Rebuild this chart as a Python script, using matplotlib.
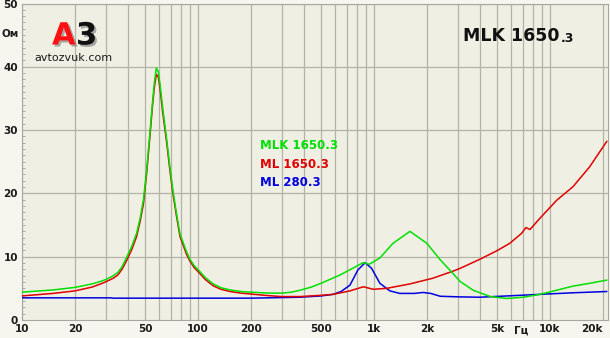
import matplotlib
matplotlib.use("Agg")
import matplotlib.pyplot as plt
import matplotlib.patheffects as pe
from matplotlib.ticker import FixedLocator, NullFormatter, MultipleLocator

# impedance curves, Hz -> Ohm
green_f = [10, 15, 20, 25, 28, 30, 33, 35, 37, 39, 42, 44.8, 47, 49, 51, 53.3, 55, 56.5,
           58, 59.5, 61, 63, 66.4, 69, 72, 75.5, 79, 86, 90, 95, 102, 110, 122, 135, 152,
           175, 200, 250, 300, 340, 380, 440, 500, 640, 760, 867, 940, 1080, 1280, 1600,
           2000, 2380, 2800, 3080, 3660, 4580, 5700, 7070, 8750, 10900, 13500, 16800,
           21000]
green_z = [4.4, 4.75, 5.15, 5.7, 6.1, 6.4, 7.0, 7.5, 8.4, 9.7, 11.6, 13.7, 16.2, 19, 23.5,
           29.5, 34, 37.5, 39.8, 39.2, 37, 33.5, 28.5, 24.5, 20.5, 16.8, 13.6, 10.8, 9.6,
           8.6, 7.7, 6.7, 5.7, 5.1, 4.75, 4.5, 4.4, 4.25, 4.25, 4.4, 4.7, 5.2, 5.8, 7.1,
           8.2, 9.05, 8.8, 9.8, 12.1, 14.0, 12.1, 9.5, 7.4, 6.1, 4.7, 3.7, 3.4, 3.6, 4.05,
           4.7, 5.35, 5.8, 6.3]

red_f = [10, 15, 20, 25, 28, 30, 33, 35, 37, 39, 42, 44.8, 47, 49, 51, 53.3, 55, 56.5,
         58, 59.5, 61, 63, 66.4, 69, 72, 75.5, 79, 86, 90, 95, 102, 110, 122, 135, 152,
         175, 200, 250, 300, 380, 500, 585, 730, 870, 990, 1180, 1600, 2160, 2800, 3080,
         4000, 4960, 5900, 6900, 7300, 7700, 8750, 10900, 13500, 16800, 21000]
red_z = [3.8, 4.2, 4.6, 5.2, 5.7, 6.05, 6.6, 7.1, 8.0, 9.2, 11.1, 13.2, 15.7, 18.4, 23,
         29, 33.5, 36.8, 38.8, 38.4, 36.3, 32.8, 28, 24, 20, 16.4, 13.2, 10.4, 9.3, 8.3,
         7.4, 6.4, 5.4, 4.85, 4.5, 4.25, 4.1, 3.85, 3.7, 3.7, 3.9, 4.05, 4.6, 5.25, 4.85,
         5.0, 5.7, 6.6, 7.7, 8.15, 9.6, 10.9, 12.1, 13.7, 14.6, 14.3, 16.05, 18.9, 21.05,
         24.2, 28.2]

blue_f = [10, 32, 33, 200, 380, 500, 585, 650, 730, 810, 890, 970, 1080, 1230, 1400,
          1700, 1900, 2100, 2380, 3080, 4000, 5700, 8750, 13500, 21000]
blue_z = [3.5, 3.5, 3.45, 3.45, 3.6, 3.8, 4.05, 4.5, 5.5, 7.9, 9.05, 8.15, 5.8, 4.6, 4.2,
          4.2, 4.35, 4.2, 3.75, 3.65, 3.6, 3.8, 4.05, 4.3, 4.5]

x_ticks = [10, 20, 50, 100, 200, 500, 1000, 2000, 5000, 10000, 20000]
x_labels = ['10', '20', '50', '100', '200', '500', '1k', '2k', '5k', '10k', '20k']
y_ticks = [0, 10, 20, 30, 40, 50]

bg = '#f0efe3'
grid_c = '#b4b3a8'

fig = plt.figure(figsize=(6.1, 3.38), dpi=100, facecolor='#f6f5ee')
ax = fig.add_axes([22 / 610, 18 / 338, 586 / 610, 316.5 / 338], facecolor=bg)

ax.set_xscale('log')
ax.set_xlim(10, 21360)
ax.set_ylim(0, 50)

# grid lines at every 1-2-...-9 step
grid_x = [m * 10 ** d for d in range(1, 5) for m in range(1, 10) if m * 10 ** d <= 21000]
for gx in grid_x:
    ax.axvline(gx, color=grid_c, lw=0.9, zorder=1)
for gy in y_ticks[1:]:
    ax.axhline(gy, color=grid_c, lw=0.9, zorder=1)

ax.plot(blue_f, blue_z, color='#0000e0', lw=1.1, zorder=3)
ax.plot(red_f, red_z, color='#e00000', lw=1.1, zorder=4)
ax.plot(green_f, green_z, color='#00e000', lw=1.1, zorder=5)

ax.xaxis.set_major_locator(FixedLocator(x_ticks))
ax.set_xticklabels(x_labels)
ax.xaxis.set_minor_formatter(NullFormatter())
ax.tick_params(axis='x', which='both', length=0, pad=3, labelsize=7.5)
ax.set_yticks(y_ticks)
ax.yaxis.set_minor_locator(MultipleLocator(1))
ax.tick_params(axis='y', which='major', length=0, pad=3, labelsize=7.5)
ax.tick_params(axis='y', which='minor', length=2, color='#a0a09a', direction='in')
for lab in ax.get_xticklabels() + ax.get_yticklabels():
    lab.set_fontweight('bold')
    lab.set_color('#1a1a1a')
ax.get_xticklabels()[-1].set_horizontalalignment('right')
ax.get_xticklabels()[-1].set_x(21300)

for s in ax.spines.values():
    s.set_color('#a8a8a0')
    s.set_linewidth(0.8)

fig.text(1 / 610, 1 - 34 / 338, 'Ом', fontsize=7.5, fontweight='bold', color='#1a1a1a',
         va='center', ha='left')
fig.text(514 / 610, 1 - 331 / 338, 'Гц', fontsize=7.5, fontweight='bold', color='#1a1a1a',
         va='center', ha='left')

# logo
shadow = [pe.withSimplePatchShadow(offset=(1.5, -1.5), shadow_rgbFace='#777777', alpha=0.6)]
fig.text(52 / 610, 1 - 36 / 338, 'A', fontsize=22, fontweight='bold', color='#ff1010',
         va='center', ha='left', path_effects=shadow)
fig.text(76 / 610, 1 - 36 / 338, '3', fontsize=22, fontweight='bold', color='#111111',
         va='center', ha='left', path_effects=shadow)
fig.text(34 / 610, 1 - 58 / 338, 'avtozvuk.com', fontsize=8, color='#1a1a1a',
         va='center', ha='left')

# title
fig.text(463 / 610, 1 - 36 / 338, 'MLK 1650', fontsize=12.5, fontweight='bold',
         color='#111111', va='center', ha='left')
fig.text(561 / 610, 1 - 38 / 338, '.3', fontsize=9, fontweight='bold',
         color='#111111', va='center', ha='left')

# legend text
leg_names = ['MLK 1650.3', 'ML 1650.3', 'ML 280.3']
leg_colors = ['#00e000', '#e00000', '#0000e0']
for i, (n, c) in enumerate(zip(leg_names, leg_colors)):
    fig.text(260 / 610, 1 - (145 + 19 * i) / 338, n, fontsize=8.5, fontweight='bold',
             color=c, va='center', ha='left')

fig.savefig('out.png', dpi=100, facecolor=fig.get_facecolor())
